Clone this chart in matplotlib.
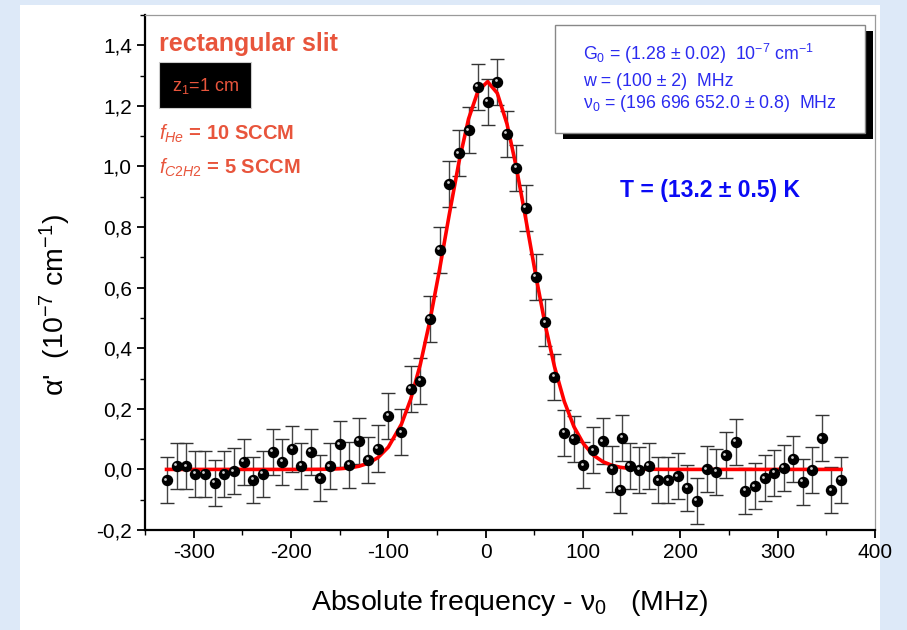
import numpy as np
import matplotlib
matplotlib.use("Agg")
import matplotlib.pyplot as plt
from matplotlib.patches import Rectangle
from matplotlib.ticker import MultipleLocator, FuncFormatter
from matplotlib.transforms import ScaledTranslation

plt.rcParams['font.family'] = ['Liberation Sans', 'DejaVu Sans']
plt.rcParams['mathtext.fontset'] = 'custom'
plt.rcParams['mathtext.rm'] = 'Liberation Sans'
plt.rcParams['mathtext.it'] = 'Liberation Sans:italic'
plt.rcParams['mathtext.bf'] = 'Liberation Sans:bold'
plt.rcParams['axes.unicode_minus'] = False

# ---- data ----
freq = [-327.9, -317.6, -307.7, -298.2, -288.2, -278.4, -268.4, -258.4, -248.6, -238.6,
        -228.6, -218.8, -208.8, -198.8, -189.4, -179.4, -169.8, -159.9, -150.0, -140.0,
        -130.1, -120.5, -110.5, -100.0, -86.6, -77.1, -67.1, -57.1, -47.4, -37.4,
        -27.4, -17.6, -7.9, 2.0, 11.9, 21.9, 31.5, 41.4, 51.2, 61.2,
        70.7, 80.7, 90.7, 100.5, 110.5, 120.5, 130.3, 138.2, 140.3, 148.1,
        158.0, 167.6, 177.5, 187.5, 197.5, 207.3, 217.0, 227.3, 237.0, 247.0,
        256.9, 266.8, 276.8, 286.7, 296.6, 306.3, 316.1, 325.8, 335.7, 345.5,
        355.1, 365.1]
alpha = [-0.036, 0.012, 0.010, -0.014, -0.014, -0.045, -0.014, -0.006, 0.026, -0.034,
         -0.014, 0.059, 0.024, 0.068, 0.011, 0.057, -0.029, 0.010, 0.083, 0.015,
         0.095, 0.031, 0.069, 0.176, 0.122, 0.267, 0.293, 0.498, 0.724, 0.942,
         1.043, 1.119, 1.263, 1.213, 1.279, 1.107, 0.995, 0.864, 0.636, 0.485,
         0.306, 0.120, 0.101, 0.013, 0.063, 0.093, 0.001, -0.067, 0.104, 0.011,
         -0.001, 0.011, -0.036, -0.036, -0.023, -0.060, -0.104, 0.000, -0.009, 0.046,
         0.090, -0.070, -0.056, -0.029, -0.011, 0.006, 0.035, -0.042, -0.001, 0.103,
         -0.069, -0.034]
alpha_err = [0.076] * len(freq)

# fit parameters shown in the box
G0 = 1.28     # 10^-7 cm^-1
FWHM = 100.0  # MHz
CENTER = 1.5  # MHz

yticks = [-0.2, 0.0, 0.2, 0.4, 0.6, 0.8, 1.0, 1.2, 1.4]
xticks = [-300, -200, -100, 0, 100, 200, 300, 400]

freq_arr = np.array(freq)
fit = G0 * np.exp(-4 * np.log(2) * (freq_arr - CENTER) ** 2 / FWHM ** 2)

coral = '#e8553c'
blue_txt = '#2b2bf0'

W_AX = 730
fig = plt.figure(figsize=(9.07, 6.30), dpi=100, facecolor='#dde9f8')
bg = Rectangle((20 / 907, 0), 860 / 907, 625 / 630, transform=fig.transFigure,
               facecolor='white', edgecolor='none', zorder=-5)
fig.patches.append(bg)

ax = fig.add_axes([145 / 907, 1 - 530 / 630, W_AX / 907, 515 / 630])
ax.set_zorder(2)
ax.set_facecolor('white')

eb = ax.errorbar(freq, alpha, yerr=alpha_err, fmt='none', ecolor='#333333',
                 elinewidth=1.0, capsize=5, capthick=1.0, zorder=2)
for cl in eb[1]:
    cl.set_color('#8a8a8a')
for lc in eb[2]:
    lc.set_color('#444444')

ax.plot(freq, fit, color='#ff0000', lw=2.6, zorder=3)
ax.plot(freq, alpha, 'o', ms=7.2, color='black', mec='black', zorder=4)
hl = ax.transData + ScaledTranslation(-1.2 / 72, 1.2 / 72, fig.dpi_scale_trans)
ax.plot(freq, alpha, 'o', ms=2.0, color='#cfcfcf', mec='none', transform=hl, zorder=5)

ax.set_xlim(-350, 400)
ax.set_ylim(-0.2, 1.5)
ax.set_xticks(xticks)
ax.set_yticks(yticks)
ax.xaxis.set_minor_locator(MultipleLocator(50))
ax.yaxis.set_minor_locator(MultipleLocator(0.1))
ax.yaxis.set_major_formatter(FuncFormatter(lambda v, p: f"{v:.1f}".replace('.', ',')))
ax.xaxis.set_major_formatter(FuncFormatter(lambda v, p: f"{int(round(v))}"))
ax.tick_params(which='major', direction='out', length=6, width=1.3, labelsize=15, colors='black')
ax.tick_params(which='minor', direction='out', length=3.5, width=1.0)
ax.tick_params(top=False, right=False, which='both')

for s in ['left', 'bottom']:
    ax.spines[s].set_linewidth(1.6)
    ax.spines[s].set_color('black')
for s in ['top', 'right']:
    ax.spines[s].set_linewidth(0.9)
    ax.spines[s].set_color('#9a9a9a')

ax.set_xlabel("Absolute frequency - ν$_0$   (MHz)", fontsize=20.5, va='center')
ax.xaxis.set_label_coords(0.499, -0.142)
ax.set_ylabel("α'  (10$^{-7}$ cm$^{-1}$)", fontsize=20.5, va='center')
ax.yaxis.set_label_coords(-0.123, 0.437)

def ax_x(px):
    return (px - 145) / W_AX

def ax_y(py):
    return (530 - py) / 515

# annotations, top-left
ax.text(ax_x(159), ax_y(44), "rectangular slit", transform=ax.transAxes, color=coral,
        fontsize=18, fontweight='bold', va='center', ha='left')
ax.add_patch(Rectangle((ax_x(159), ax_y(108)), (251 - 159) / W_AX, (108 - 62) / 515,
                       transform=ax.transAxes, facecolor='black', edgecolor='#cccccc', lw=0.8, zorder=6))
ax.text(ax_x(206), ax_y(86), "z$_1$=1 cm", transform=ax.transAxes, color=coral,
        fontsize=13, va='center', ha='center', zorder=7)
ax.text(ax_x(159), ax_y(134), r"$\mathit{f}_{\mathit{He}}$ = 10 SCCM", transform=ax.transAxes,
        color=coral, fontsize=14.5, fontweight='bold', va='center', ha='left')
ax.text(ax_x(159), ax_y(168), r"$\mathit{f}_{\mathit{C2H2}}$ = 5 SCCM", transform=ax.transAxes,
        color=coral, fontsize=14.5, fontweight='bold', va='center', ha='left')

# fit results box with shadow
bx0, bx1, by0, by1 = 555, 865, 25, 133
ax.add_patch(Rectangle((ax_x(bx0 + 8), ax_y(by1 + 6)), (bx1 - bx0) / W_AX, (by1 - by0) / 515,
                       transform=ax.transAxes, facecolor='black', edgecolor='none', zorder=6))
ax.add_patch(Rectangle((ax_x(bx0), ax_y(by1)), (bx1 - bx0) / W_AX, (by1 - by0) / 515,
                       transform=ax.transAxes, facecolor='white', edgecolor='#888888', lw=1.0, zorder=7))
ax.text(ax_x(583), ax_y(54), "G$_0$ = (1.28 ± 0.02)  10$^{-7}$ cm$^{-1}$", transform=ax.transAxes,
        color=blue_txt, fontsize=12.8, va='center', ha='left', zorder=8)
ax.text(ax_x(583), ax_y(81), "w = (100 ± 2)  MHz", transform=ax.transAxes,
        color=blue_txt, fontsize=12.8, va='center', ha='left', zorder=8)
ax.text(ax_x(583), ax_y(104), "ν$_0$ = (196 696 652.0 ± 0.8)  MHz", transform=ax.transAxes,
        color=blue_txt, fontsize=12.8, va='center', ha='left', zorder=8)

ax.text(ax_x(710), ax_y(190), "T = (13.2 ± 0.5) K", transform=ax.transAxes, color='#0a0af5',
        fontsize=16.5, fontweight='bold', va='center', ha='center')

fig.savefig("out.png", dpi=100, facecolor=fig.get_facecolor())
